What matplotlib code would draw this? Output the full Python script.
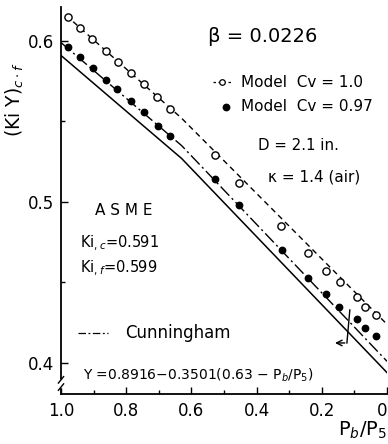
import matplotlib
matplotlib.use('Agg')
import matplotlib.pyplot as plt
import numpy as np

# Model data, Cv = 1.0 (open circles)
pr_open = [0.978, 0.942, 0.905, 0.862, 0.826, 0.785, 0.745, 0.705, 0.665,
           0.529, 0.455, 0.326, 0.243, 0.188, 0.145, 0.092, 0.068, 0.034]
ky_open = [0.615, 0.608, 0.601, 0.594, 0.587, 0.580, 0.573, 0.565, 0.558,
           0.529, 0.512, 0.485, 0.468, 0.457, 0.450, 0.441, 0.435, 0.430]

# Model data, Cv = 0.97 (filled dots)
pr_fill = [0.978, 0.942, 0.902, 0.862, 0.828, 0.785, 0.745, 0.702, 0.665,
           0.529, 0.455, 0.323, 0.243, 0.188, 0.148, 0.092, 0.068, 0.034]
ky_fill = [0.596, 0.590, 0.583, 0.576, 0.570, 0.563, 0.556, 0.547, 0.541,
           0.514, 0.498, 0.470, 0.453, 0.443, 0.435, 0.427, 0.422, 0.417]

# fitted / reference curves (break at Pb/P5 = 0.63)
pr_fit = [0.985, 0.63, 0.0]
ky_fit_open = [0.616, 0.552, 0.424]
pr_line = [1.0, 0.63, 0.0]
ky_cunningham = [0.599, 0.535, 0.401]
ky_asme = [0.591, 0.527, 0.394]

fig = plt.figure(figsize=(3.88, 4.44), dpi=100)
ax = fig.add_axes([61 / 388, 50 / 444, 326 / 388, 387 / 444])

ax.plot(pr_fit, ky_fit_open, color='black', lw=1.0, dashes=(4, 3), zorder=2)
ax.plot(pr_line, ky_cunningham, color='black', lw=1.0, dashes=(9, 2.5, 1.5, 2.5), zorder=2)
ax.plot(pr_line, ky_asme, color='black', lw=1.1, zorder=2)

ax.plot(pr_open, ky_open, 'o', ms=5.2, mfc='white', mec='black', mew=1.0, zorder=3)
ax.plot(pr_fill, ky_fill, 'o', ms=4.6, color='black', zorder=3)

ax.set_xlim(1.0, 0.0)
ax.set_ylim(0.3807, 0.6211)
ax.set_xticks([1.0, 0.8, 0.6, 0.4, 0.2, 0.0])
ax.set_xticklabels(['1.0', '0.8', '0.6', '0.4', '0.2', '0'])
ax.set_xticks(np.arange(0.1, 1.0, 0.2), minor=True)
ax.set_yticks([0.4, 0.5, 0.6])
ax.set_yticklabels(['0.4', '0.5', '0.6'])
ax.set_yticks([0.45, 0.55], minor=True)
ax.tick_params(direction='in', length=5, width=1.0, labelsize=12, pad=5)
ax.tick_params(axis='x', pad=6)
ax.tick_params(which='minor', direction='in', length=3, width=1.0)
ax.get_xticklabels()[-1].set_horizontalalignment('right')
ax.spines['top'].set_visible(False)
ax.spines['right'].set_visible(False)
ax.spines['left'].set_linewidth(1.3)
ax.spines['bottom'].set_linewidth(1.3)

# axis break on y spine
for yb in [0.3895, 0.3850]:
    ax.plot([1.008, 0.992], [yb - 0.002, yb + 0.002], color='black', lw=1.0,
            clip_on=False, zorder=5)
ax.plot([1.0, 1.0], [0.3858, 0.3887], color='white', lw=2.5, clip_on=False, zorder=4)

ax.text(0.548, 0.6025, 'β = 0.0226', fontsize=14, ha='left', va='center')

# legend
ax.plot([0.535, 0.475], [0.5745, 0.5745], color='black', lw=0.9, dashes=(2, 2))
ax.plot([0.505], [0.5745], 'o', ms=4, mfc='white', mec='black', mew=0.9)
ax.text(0.449, 0.5745, 'Model  Cv = 1.0', fontsize=11, ha='left', va='center')
ax.plot([0.495], [0.559], 'o', ms=4.6, color='black')
ax.text(0.449, 0.559, 'Model  Cv = 0.97', fontsize=11, ha='left', va='center')

ax.text(0.397, 0.5348, 'D = 2.1 in.', fontsize=10.8, ha='left', va='center')
ax.text(0.366, 0.5155, 'κ = 1.4 (air)', fontsize=11, ha='left', va='center')

ax.text(0.895, 0.4944, 'A S M E', fontsize=11, ha='left', va='center')
ax.text(0.9415, 0.4745, r'Ki$_{,c}$=0.591', fontsize=10.5, ha='left', va='center')
ax.text(0.9415, 0.459, r'Ki$_{,f}$=0.599', fontsize=10.5, ha='left', va='center')

ax.plot([0.948, 0.855], [0.4186, 0.4186], color='black', lw=0.9, dashes=(6, 2, 1.5, 2))
ax.text(0.803, 0.4186, 'Cunningham', fontsize=12, ha='left', va='center')
ax.text(0.932, 0.3925, r'Y =0.8916$-$0.3501(0.63 $-$ P$_b$/P$_5$)', fontsize=10,
        ha='left', va='center')

# critical pressure ratio marker
ax.plot([0.114, 0.123], [0.4329, 0.4124], color='black', lw=1.0)
ax.annotate('', xy=(0.168, 0.4124), xytext=(0.121, 0.4124),
            arrowprops=dict(arrowstyle='->', color='black', lw=1.0))

ax.set_ylabel(r'(Ki Y)$_{c \cdot f}$', fontsize=13.5)
ax.yaxis.set_label_coords(-0.108, 0.76)
ax.text(1.0, -0.093, r'P$_b$/P$_5$', fontsize=14, ha='right', va='center',
        transform=ax.transAxes)

fig.savefig('out.png', dpi=100)
